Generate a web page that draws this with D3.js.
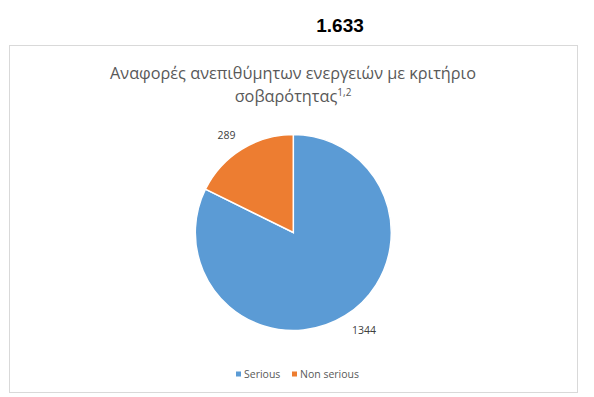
<!DOCTYPE html>
<meta charset="utf-8">
<style>
  body { margin: 0; background: #fff; }
  svg text { font-family: "Open Sans", sans-serif; }
</style>
<svg width="594" height="397"></svg>
<script src="https://cdn.jsdelivr.net/npm/d3@7"></script>
<script>
  var categories = ["Serious", "Non serious"];
  var values = [1344, 289];
  var colors = ["#5B9BD5", "#ED7D31"];
  var total = "1.633";
  var titleLines = ["Αναφορές ανεπιθύμητων ενεργειών με κριτήριο", "σοβαρότητας"];

  var svg = d3.select("svg");

  // big total above the box
  svg.append("text")
      .attr("x", 340).attr("y", 32)
      .attr("text-anchor", "middle")
      .style("font-family", "'Liberation Sans', Arial, sans-serif")
      .style("font-weight", "bold")
      .style("font-size", "19px")
      .attr("fill", "#000")
      .text(total);

  // chart frame
  svg.append("rect")
      .attr("x", 9.5).attr("y", 45.5)
      .attr("width", 568).attr("height", 347)
      .attr("fill", "#fff")
      .attr("stroke", "#d9d9d9").attr("stroke-width", 1);

  var title = svg.append("text")
      .attr("text-anchor", "middle")
      .attr("fill", "#595959")
      .style("font-size", "16.3px");
  title.append("tspan").attr("x", 293).attr("y", 79).text(titleLines[0]);
  var t2 = title.append("tspan").attr("x", 293).attr("y", 102).text(titleLines[1]);
  t2.append("tspan").attr("dy", -6).style("font-size", "10px").text("1,2");

  var cx = 293.3, cy = 232.5, r = 98;
  var g = svg.append("g").attr("transform", "translate(" + cx + "," + cy + ")");

  var pie = d3.pie().sort(null).value(function(d) { return d; });
  var arc = d3.arc().innerRadius(0).outerRadius(r);
  var labelArc = d3.arc().innerRadius(119).outerRadius(119);
  var arcs = pie(values);

  g.selectAll("path")
      .data(arcs)
      .enter().append("path")
      .attr("d", arc)
      .attr("fill", function(d, i) { return colors[i]; })
      .attr("stroke", "#fff")
      .attr("stroke-width", 1.5);

  // labels sit just outside the slice, pushed sideways away from the pie
  g.selectAll("text.lbl")
      .data(arcs)
      .enter().append("text")
      .attr("class", "lbl")
      .attr("transform", function(d) {
        var c = labelArc.centroid(d);
        var side = c[0] < 0 ? -4 : 8;
        return "translate(" + (c[0] + side) + "," + (c[1] + (c[1] < 0 ? 4 : -3)) + ")";
      })
      .attr("text-anchor", "middle")
      .attr("dy", "0.35em")
      .attr("fill", "#404040")
      .style("font-size", "10.5px")
      .text(function(d) { return d.data; });

  // legend
  var legendX = [236, 292];
  var legend = svg.selectAll("g.leg")
      .data(categories)
      .enter().append("g")
      .attr("class", "leg")
      .attr("transform", function(d, i) { return "translate(" + legendX[i] + ",374)"; });
  legend.append("rect")
      .attr("x", 0).attr("y", -2.5)
      .attr("width", 5).attr("height", 5)
      .attr("fill", function(d, i) { return colors[i]; });
  legend.append("text")
      .attr("x", 8).attr("dy", "0.35em")
      .attr("fill", "#595959")
      .style("font-size", "10.5px")
      .text(function(d) { return d; });
</script>
